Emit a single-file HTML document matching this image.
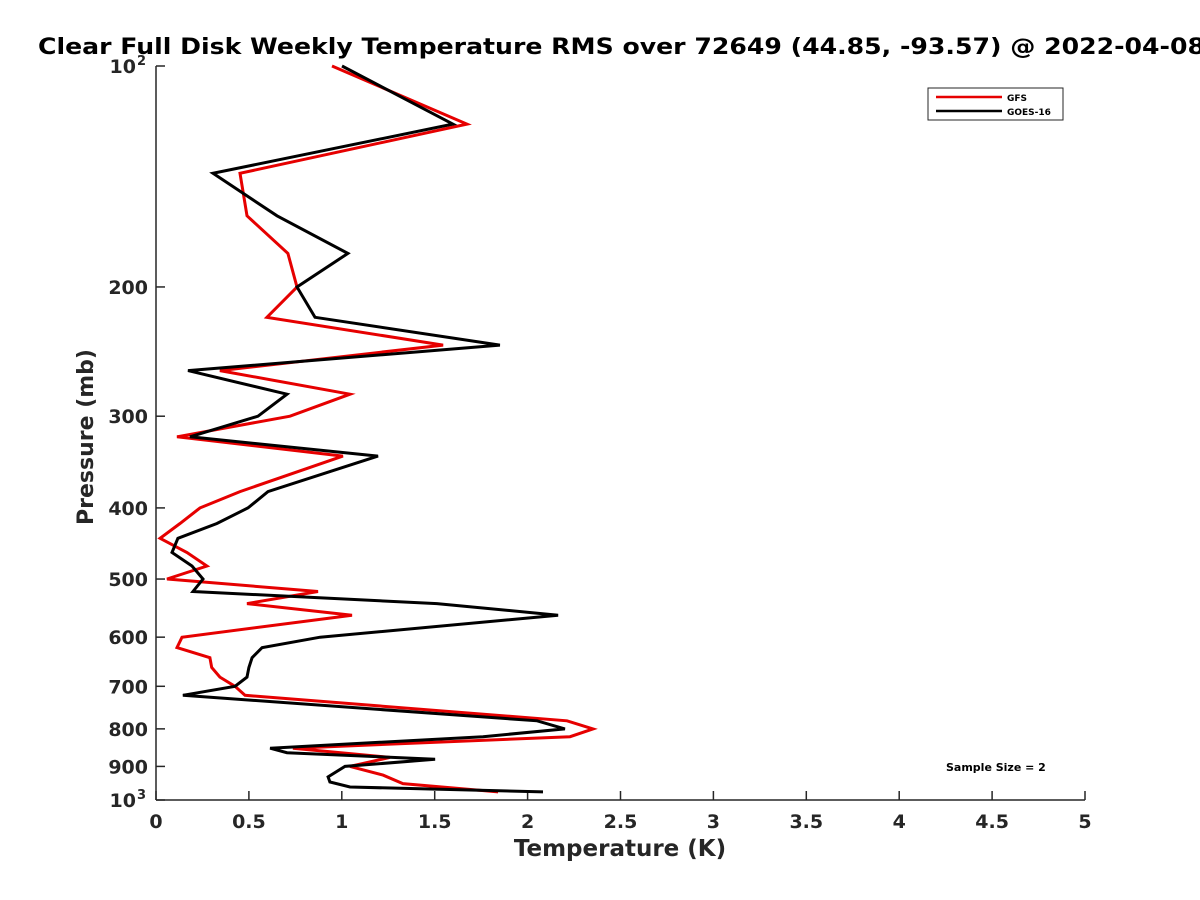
<!DOCTYPE html>
<html><head><meta charset="utf-8"><style>body{margin:0;background:#fff;overflow:hidden}svg{display:block;font-family:"DejaVu Sans","Liberation Sans",sans-serif}</style></head>
<body>
<svg id="chart" width="1200" height="900" viewBox="0 0 1200 900">
<rect width="1200" height="900" fill="#fff"/>
<text x="38" y="54" font-size="22" font-weight="bold" fill="#000" textLength="1167" lengthAdjust="spacingAndGlyphs">Clear Full Disk Weekly Temperature RMS over 72649 (44.85, -93.57) @ 2022-04-08</text>
<g id="axes"></g>
<g id="series"></g>
<g>
<rect x="928" y="88" width="135" height="32" fill="#fff" stroke="#262626" stroke-width="1"/>
<line x1="936" y1="97" x2="1002" y2="97" stroke="#e60000" stroke-width="2.5"/>
<text x="1007" y="101" font-size="9" font-weight="bold">GFS</text>
<line x1="936" y1="111" x2="1002" y2="111" stroke="#000" stroke-width="2.5"/>
<text x="1007" y="115" font-size="9" font-weight="bold">GOES-16</text>
</g>
<text x="946" y="771" font-size="11" font-weight="bold">Sample Size = 2</text>
<text x="620" y="856" font-size="23" font-weight="bold" text-anchor="middle" fill="#262626">Temperature (K)</text>
<text transform="translate(93,437) rotate(-90)" font-size="22" font-weight="bold" text-anchor="middle" fill="#262626">Pressure (mb)</text>
</svg>
<script>
const xTicks=[0,0.5,1,1.5,2,2.5,3,3.5,4,4.5,5];
const xTickLabels=["0","0.5","1","1.5","2","2.5","3","3.5","4","4.5","5"];
const yTicks=[100,200,300,400,500,600,700,800,900,1000];
const yTickLabels=["10","200","300","400","500","600","700","800","900","10"];
const gfsP=[100,120,140,160,180,200,220,240,260,280,300,320,340,380,400,420,440,460,480,500,520,540,560,600,620,640,660,680,700,720,780,800,820,850,875,900,925,950,975];
const gfsT=[0.947,1.674,0.452,0.49,0.71,0.759,0.597,1.545,0.344,1.044,0.721,0.113,1.006,0.452,0.237,0.129,0.022,0.167,0.274,0.059,0.872,0.49,1.055,0.14,0.113,0.29,0.30,0.344,0.425,0.479,2.212,2.352,2.228,0.737,1.259,1.044,1.222,1.329,1.841];
const goesP=[100,120,140,160,180,200,220,240,260,280,300,320,340,380,400,420,440,460,480,500,520,540,560,600,620,640,660,680,700,720,780,800,820,850,862,880,900,930,945,960,975];
const goesT=[1.001,1.598,0.307,0.651,1.033,0.759,0.856,1.851,0.172,0.705,0.549,0.183,1.195,0.603,0.495,0.328,0.118,0.086,0.194,0.253,0.199,1.512,2.164,0.883,0.571,0.517,0.5,0.49,0.425,0.145,2.051,2.201,1.76,0.614,0.705,1.502,1.017,0.926,0.936,1.044,2.083];
const X0=156,X1=1085,Y0=66,Y1=800;
const xs=v=>X0+(v/5)*(X1-X0);
const ys=p=>Y0+Math.log10(p/100)*(Y1-Y0);
const NS="http://www.w3.org/2000/svg";
function mk(t,a,parent){const e=document.createElementNS(NS,t);for(const k in a)e.setAttribute(k,a[k]);parent.appendChild(e);return e;}
const ax=document.getElementById('axes');
const xl=mk('line',{x1:X0,y1:Y1,x2:X1,y2:Y1,stroke:'#262626','stroke-width':1.5},ax);


const yl=mk('line',{x1:X0,y1:Y0,x2:X0,y2:Y1,stroke:'#262626','stroke-width':1.5},ax);


xTicks.forEach((v,i)=>{
 mk('line',{x1:xs(v),y1:Y1,x2:xs(v),y2:Y1-9,stroke:'#262626','stroke-width':1.5},ax);
 const t=mk('text',{x:xs(v),y:Y1+28,'font-size':19,'font-weight':'bold','text-anchor':'middle',fill:'#262626'},ax);
 t.textContent=xTickLabels[i];
 
 
});
yTicks.forEach((p,i)=>{
 const y=ys(p);
 mk('line',{x1:X0,y1:y,x2:X0+9,y2:y,stroke:'#262626','stroke-width':1.5},ax);
 const t=mk('text',{x:X0-8,y:y+7,'font-size':19,'font-weight':'bold','text-anchor':'end',fill:'#262626'},ax);
 if(p===100||p===1000){
  t.setAttribute('x',X0-20);
  t.textContent=yTickLabels[i];
  const s=mk('text',{x:X0-19,y:y-1,'font-size':13,'font-weight':'bold','text-anchor':'start',fill:'#262626'},ax);
  s.textContent=p===100?'2':'3';
  
  
 } else t.textContent=yTickLabels[i];
 
 
});
const sg=document.getElementById('series');
function line(P,T,color,name){
 const pts=P.map((p,i)=>xs(T[i]).toFixed(1)+','+ys(p).toFixed(1)).join(' ');
 const e=mk('polyline',{points:pts,fill:'none',stroke:color,'stroke-width':3,'stroke-linejoin':'miter'},sg);
 
 
}
line(gfsP,gfsT,'#e60000','gfs-line');
line(goesP,goesT,'#000','goes16-line');
</script>
</body></html>
